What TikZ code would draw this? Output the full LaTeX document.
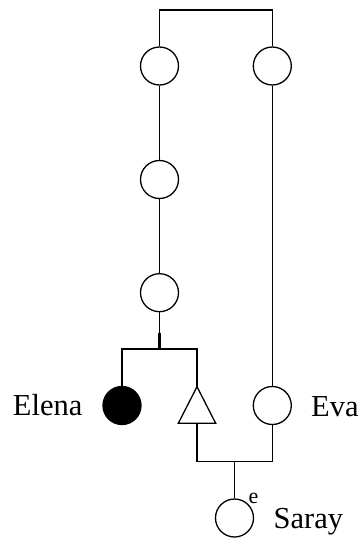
\documentclass[tikz,border=0pt]{standalone}
\usepackage{fontspec}
\setmainfont{Liberation Serif}
\begin{document}
\begin{tikzpicture}[x=1pt,y=-1pt,
  line width=1.3pt,
  person/.style={circle,draw,fill=white,minimum size=38pt,inner sep=0pt},
  affected/.style={circle,draw,fill=black,minimum size=38pt,inner sep=0pt},
  pname/.style={inner sep=0pt,font=\fontsize{30.5}{36}\selectfont},
  elbl/.style={inner sep=0pt,font=\fontsize{22}{26}\selectfont}]
\useasboundingbox (0,0) rectangle (360,541);
% individuals
\node[person] (c1) at (159.5,66) {};
\node[person] (c2) at (159.5,179.5) {};
\node[person] (c3) at (159.5,292.7) {};
\node[person] (r1) at (272.3,66) {};
\node[affected] (elena) at (122,405.5) {};
\node[person] (eva) at (272.3,405.5) {};
\node[person] (saray) at (234.5,518) {};
% triangle
\coordinate (tA) at (197,386.7);
\coordinate (tL) at (178.3,423.3);
\coordinate (tR) at (215.7,423.3);
\coordinate (tB) at (197,423.3);
\draw (tA) -- (tL) -- (tR) -- cycle;
% labels
\node[pname,anchor=base east] (lelena) at (83,415) {Elena};
\node[pname,anchor=base west] (leva) at (310.5,416) {Eva};
\node[pname,anchor=base west] (lsaray) at (273,528) {Saray};
\node[elbl,anchor=base west] (le) at (248,503.5) {e};
% connectors
\coordinate (top) at (215,10);
\draw (c1.north) |- (top) -| (r1.north);
\draw (c1.south) -- (c2.north);
\draw (c2.south) -- (c3.north);
\draw (r1.south) -- (eva.north);
\coordinate (sib) at (159.5,349);
\coordinate (sibt) at (159.5,333);
\draw (c3.south) -- (sib);
\draw[line width=2.6pt] (sibt) -- (sib);
\draw (elena.north) |- (sib) -| (tA);
\coordinate (cpl) at (234.5,461.5);
\draw (tB) |- (cpl) -| (eva.south);
\draw (cpl) -- (saray.north);
\end{tikzpicture}
\end{document}
